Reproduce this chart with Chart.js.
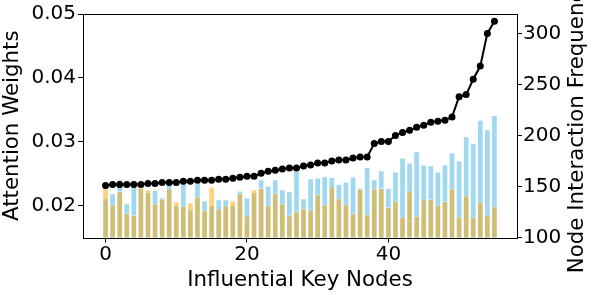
<!DOCTYPE html>
<html><head><meta charset="utf-8">
<script src="https://cdn.jsdelivr.net/npm/chart.js@4.4.1/dist/chart.umd.min.js"></script>
<style>html,body{margin:0;padding:0;background:#fff;}#wrap{width:594px;height:295px;position:relative;}</style>
</head><body><div id="wrap"><canvas id="c" width="594" height="295"></canvas></div>
<script>
const nodes = [0,1,2,3,4,5,6,7,8,9,10,11,12,13,14,15,16,17,18,19,20,21,22,23,24,25,26,27,
  28,29,30,31,32,33,34,35,36,37,38,39,40,41,42,43,44,45,46,47,48,49,50,51,52,53,54,55];
const attentionBlue = [0.02109,0.02188,0.02406,0.02031,0.02391,0.02270,0.02208,0.02239,0.02125,0.02406,
  0.02000,0.02370,0.01938,0.02355,0.02073,0.02000,0.02094,0.02094,0.02000,0.02230,
  0.02125,0.02203,0.02406,0.02308,0.02406,0.02250,0.02219,0.02542,0.02109,0.02422,
  0.02433,0.02453,0.02442,0.02333,0.02370,0.02448,0.02277,0.02598,0.02406,0.02547,
  0.02273,0.02527,0.02745,0.02667,0.02844,0.02636,0.02625,0.02527,0.02636,0.02823,
  0.02698,0.03078,0.02973,0.03339,0.03188,0.03411];
const attentionOrange = [0.02277,0.02011,0.02223,0.01880,0.01848,0.02277,0.02250,0.02027,0.02105,0.02261,
  0.02063,0.01989,0.02042,0.02136,0.01922,0.02292,0.01948,0.02000,0.02078,0.02188,
  0.01844,0.02250,0.02270,0.02000,0.02188,0.02027,0.01844,0.01906,0.01953,0.01938,
  0.02172,0.02016,0.02281,0.02109,0.02016,0.01875,0.02261,0.01859,0.02261,0.02270,
  0.01973,0.02063,0.01817,0.02219,0.01833,0.02094,0.02098,0.02011,0.02067,0.02261,
  0.01817,0.02156,0.01813,0.02052,0.01844,0.01984];
const interactionFreq = [151,152,152,152,152,152,153,153,154,154,154,155,155,156,156,156,157,157,158,159,
  160,160,163,165,166,167,168,168,170,171,173,173,175,176,176,178,179,179,192,194,
  194,200,203,205,208,210,213,214,215,218,238,240,255,268,300,312];
const leftTicks = [0.02,0.03,0.04,0.05];
const rightTicks = [100,150,200,250,300];
const xTicks = [0,20,40];

const FAMILY = "'DejaVu Sans', sans-serif";
const pts = (arr) => nodes.map((n,i) => ({x:n, y:arr[i]}));

const framePlugin = {
  id:'frame',
  afterDraw(chart){
    const {ctx, chartArea:a} = chart;
    ctx.save();
    ctx.strokeStyle = '#000'; ctx.lineWidth = 1;
    ctx.strokeRect(Math.round(a.left)+0.5, Math.round(a.top)+0.5, Math.round(a.right-a.left), Math.round(a.bottom-a.top));
    // right axis title, reading bottom to top
    ctx.fillStyle = '#000';
    ctx.font = "21.33px " + FAMILY;
    ctx.textAlign = 'center'; ctx.textBaseline = 'middle';
    ctx.translate(577, (a.top + a.bottom)/2);
    ctx.rotate(-Math.PI/2);
    ctx.fillText('Node Interaction Frequency', 0, 0);
    ctx.restore();
  }
};

const tickGrid = () => ({display:true, drawOnChartArea:false, drawTicks:true, offset:false, tickLength:5, tickColor:'#000', tickWidth:1});

new Chart(document.getElementById('c'), {
  type:'bar',
  data:{
    datasets:[
      {type:'line', data:pts(interactionFreq), yAxisID:'y1', xAxisID:'x', order:0,
       borderColor:'#000', backgroundColor:'#000', borderWidth:2, pointRadius:3.5,
       pointBackgroundColor:'#000', pointBorderWidth:0, tension:0},
      {data:pts(attentionOrange), yAxisID:'y', xAxisID:'x', order:1, grouped:false,
       backgroundColor:'rgba(255,165,0,0.5)', borderColor:'rgba(255,255,255,0.8)', borderWidth:0.6,
       barPercentage:0.84, categoryPercentage:1},
      {data:pts(attentionBlue), yAxisID:'y', xAxisID:'x', order:2, grouped:false,
       backgroundColor:'rgba(135,206,235,0.8)', borderColor:'rgba(255,255,255,0.8)', borderWidth:0.6,
       barPercentage:0.84, categoryPercentage:1}
    ]
  },
  options:{
    responsive:false, animation:false, devicePixelRatio:1,
    layout:{padding:{top:14,left:0,right:0,bottom:0}},
    plugins:{legend:{display:false}, tooltip:{enabled:false}},
    scales:{
      x:{type:'linear', position:'bottom', min:-3.19, max:58.19, offset:false,
         afterFit(s){s.height=57.5;},
         afterBuildTicks(s){s.ticks = xTicks.map(v=>({value:v}));},
         grid:tickGrid(), border:{display:false},
         ticks:{font:{size:20,family:FAMILY}, color:'#000', padding:0, maxRotation:0, autoSkip:false},
         title:{display:true, text:'Influential Key Nodes', color:'#000', font:{size:21.33,family:FAMILY}, padding:{top:0,bottom:2}}},
      y:{type:'linear', position:'left', min:0.015, max:0.05,
         afterFit(s){s.width=83;},
         afterBuildTicks(s){s.ticks = leftTicks.map(v=>({value:v}));},
         grid:tickGrid(), border:{display:false},
         ticks:{font:{size:20,family:FAMILY}, color:'#000', padding:2, callback:(v)=>v.toFixed(2)},
         title:{display:true, text:'Attention Weights', color:'#000', font:{size:21.33,family:FAMILY}, padding:{top:0,bottom:0}}},
      y1:{type:'linear', position:'right', min:100, max:319,
         afterFit(s){s.width=77;},
         afterBuildTicks(s){s.ticks = rightTicks.map(v=>({value:v}));},
         grid:tickGrid(), border:{display:false},
         ticks:{font:{size:20,family:FAMILY}, color:'#000', padding:1, callback:(v)=>String(v)}}
    }
  },
  plugins:[framePlugin]
});
</script></body></html>
